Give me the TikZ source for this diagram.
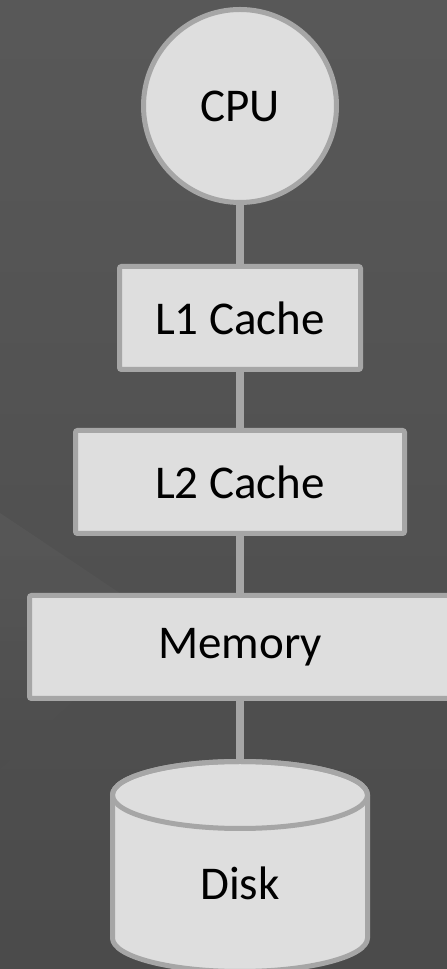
\documentclass[tikz,border=0pt]{standalone}
\usepackage{fontspec}
\setmainfont{Carlito}
\pgfdeclarelayer{back}
\pgfdeclarelayer{links}
\pgfsetlayers{back,links,main}

\definecolor{bgdark}{HTML}{474747}
\definecolor{bglight}{HTML}{5C5C5C}
\definecolor{partfill}{HTML}{DEDEDE}
\definecolor{partline}{HTML}{A6A6A6}

\tikzset{
  x=1pt, y=1pt,
  part/.style={draw=partline, fill=partfill, line width=5pt,
    font=\fontsize{47}{50}\selectfont, text=black, inner sep=0pt},
  boxpart/.style={part, rectangle, rounded corners=2pt, minimum height=103pt},
  link/.style={draw=partline, line width=7.5pt}
}

\begin{document}
\begin{tikzpicture}
  \useasboundingbox (0,0) rectangle (447,969);

  % backdrop: dark grey, lighter towards the upper left, with a faint light wedge
  \begin{pgfonlayer}{back}
    \shade[shading angle=135, top color=bglight, bottom color=bgdark]
      (-260,-260) rectangle (707,1229);
    \shade[shading angle=-56, top color=white, bottom color=bgdark, opacity=0.035]
      (0,456) -- (160,349) -- (0,200) -- cycle;
  \end{pgfonlayer}

  % memory hierarchy
  \node[part, circle, minimum size=193pt] (cpu) at (240,863) {CPU};
  \node[boxpart, minimum width=241pt] (l1) at (240,651) {L1 Cache};
  \node[boxpart, minimum width=329pt] (l2) at (240,487) {L2 Cache};
  \node[boxpart, minimum width=421pt] (mem) at (240,322) {Memory};

  % disk drawn as a cylinder
  \path[part] (112.5,174) -- (112.5,31)
    arc[start angle=180, end angle=360, x radius=127.5, y radius=33.5]
    -- (367.5,174)
    arc[start angle=0, end angle=180, x radius=127.5, y radius=33.5] -- cycle;
  \draw[draw=partline, line width=5pt] (240,174) ellipse[x radius=127.5, y radius=33.5];
  \coordinate (disktop) at (240,174);
  \node[font=\fontsize{47}{50}\selectfont, text=black, inner sep=0pt] (disk) at (240,86) {Disk};

  % connectors between levels
  \begin{pgfonlayer}{links}
    \draw[link] (cpu.center) -- (l1.center);
    \draw[link] (l1.center) -- (l2.center);
    \draw[link] (l2.center) -- (mem.center);
    \draw[link] (mem.center) -- (disktop);
  \end{pgfonlayer}
\end{tikzpicture}
\end{document}
